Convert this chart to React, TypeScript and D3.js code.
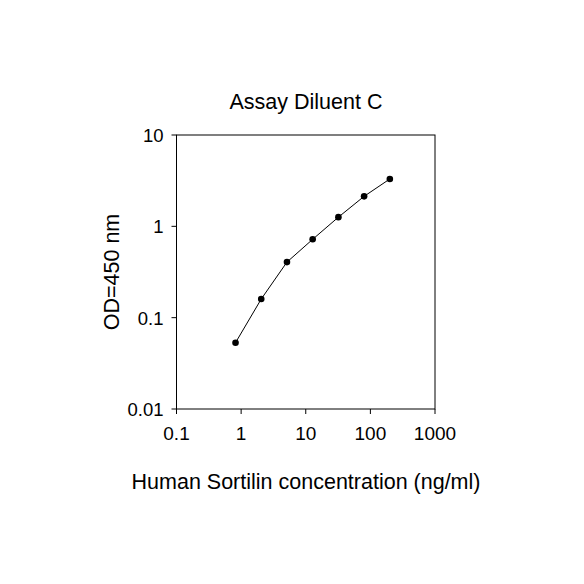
import React from "react";
import * as d3 from "d3";

const concentrations = [0.8192, 2.048, 5.12, 12.8, 32, 80, 200];
const odValues = [0.0532, 0.16, 0.406, 0.721, 1.26, 2.13, 3.3];
const xTicks = [0.1, 1, 10, 100, 1000];
const yTicks = [0.01, 0.1, 1, 10];
const xTickLabels = ["0.1", "1", "10", "100", "1000"];
const yTickLabels = ["0.01", "0.1", "1", "10"];

export default function App() {
  const W = 584, H = 584;
  const left = 176.5, right = 435, top = 135, bottom = 409;
  const x = d3.scaleLog().domain([0.1, 1000]).range([left, right]);
  const y = d3.scaleLog().domain([0.01, 10]).range([bottom, top]);
  const line = d3
    .line<number>()
    .x((_, i) => x(concentrations[i]))
    .y((d) => y(d));
  const font = "'Liberation Sans', Arial, sans-serif";
  return (
    <svg
      width={W}
      height={H}
      style={{ position: "absolute", left: 0, top: 0, background: "#fff" }}
      fontFamily={font}
    >
      <rect x={0} y={0} width={W} height={H} fill="#fff" />
      <rect
        x={left}
        y={top}
        width={right - left}
        height={bottom - top}
        fill="none"
        stroke="#000"
        strokeWidth={1}
      />
      {xTicks.map((t, i) => (
        <g key={"x" + i}>
          <line x1={x(t)} x2={x(t)} y1={bottom} y2={bottom + 5} stroke="#000" />
          <text
            x={x(t)}
            y={440}
            textAnchor="middle"
            fontSize={19}
            fill="#000"
          >
            {xTickLabels[i]}
          </text>
        </g>
      ))}
      {yTicks.map((t, i) => (
        <g key={"y" + i}>
          <line x1={left - 5} x2={left} y1={y(t)} y2={y(t)} stroke="#000" />
          <text
            x={left - 13}
            y={y(t) + 7}
            textAnchor="end"
            fontSize={18.5}
            fill="#000"
          >
            {yTickLabels[i]}
          </text>
        </g>
      ))}
      <path d={line(odValues) || ""} fill="none" stroke="#000" strokeWidth={1} />
      {odValues.map((v, i) => (
        <circle key={"p" + i} cx={x(concentrations[i])} cy={y(v)} r={3.3} fill="#000" />
      ))}
      <text x={306} y={109} textAnchor="middle" fontSize={21.5} fill="#000">
        Assay Diluent C
      </text>
      <text x={306} y={489} textAnchor="middle" fontSize={21.5} fill="#000">
        Human Sortilin concentration (ng/ml)
      </text>
      <text
        transform={`translate(119, 272) rotate(-90)`}
        textAnchor="middle"
        fontSize={21.5}
        fill="#000"
      >
        OD=450 nm
      </text>
    </svg>
  );
}
